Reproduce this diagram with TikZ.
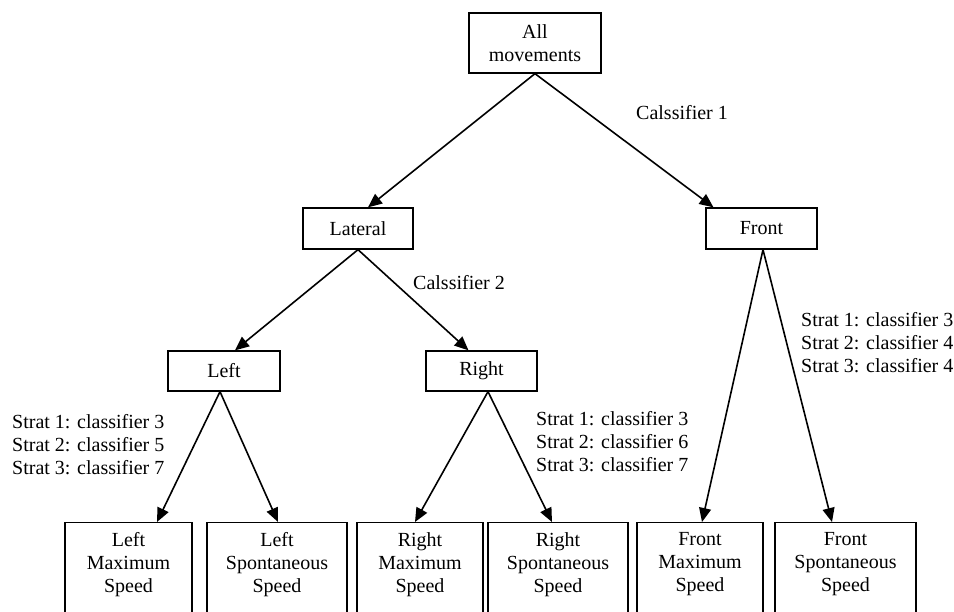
\documentclass[tikz,border=0pt]{standalone}
\usepackage{fontspec}
\setmainfont{Liberation Serif}
\usetikzlibrary{arrows.meta,calc}
\begin{document}
\begin{tikzpicture}[x=1pt,y=-1pt,
  every node/.style={font=\fontsize{20}{23}\selectfont},
  box/.style={draw,line width=1.3pt,inner sep=0pt,minimum height=41pt},
  leafbox/.style={draw,line width=1.3pt,inner sep=0pt,minimum height=110pt,anchor=north},
  leaftext/.style={align=center,anchor=north,inner sep=0pt},
  lbl/.style={anchor=west,align=left,inner sep=0pt},
  arr/.style={line width=1.6pt,-{Triangle[length=14pt,width=12pt]}}]
\useasboundingbox (0,0) rectangle (954,611);
\clip (0,0) rectangle (954,611);
% top levels
\node[box,minimum width=132pt,minimum height=60pt,align=center] (all) at (535,43) {All\\movements};
\node[box,minimum width=110pt] (lat) at (358,228.5) {Lateral};
\node[box,minimum width=111pt] (front) at (761.5,228.5) {Front};
\node[box,minimum width=112pt,minimum height=40pt] (left) at (224,371) {Left};
\node[box,minimum width=111pt,minimum height=40pt] (right) at (481.5,371) {Right};
% leaves
\node[leafbox,minimum width=127pt] (lm) at (128.5,522) {};
\node[leafbox,minimum width=140pt] (ls) at (277,522) {};
\node[leafbox,minimum width=126pt] (rm) at (420,522) {};
\node[leafbox,minimum width=140pt] (rs) at (558,522) {};
\node[leafbox,minimum width=126pt] (fm) at (700,522) {};
\node[leafbox,minimum width=141pt] (fs) at (845.5,522) {};
\node[leaftext] (lmt) at ([yshift=-10pt]lm.north) {Left\\Maximum\\Speed};
\node[leaftext] (lst) at ([yshift=-10pt]ls.north) {Left\\Spontaneous\\Speed};
\node[leaftext] (rmt) at ([yshift=-10pt]rm.north) {Right\\Maximum\\Speed};
\node[leaftext] (rst) at ([yshift=-10pt]rs.north) {Right\\Spontaneous\\Speed};
\node[leaftext] (fmt) at ([yshift=-10pt]fm.north) {Front\\Maximum\\Speed};
\node[leaftext] (fst) at ([yshift=-10pt]fs.north) {Front\\Spontaneous\\Speed};
% arrows
\draw[arr] (all.south) -- ([xshift=10pt]lat.north);
\draw[arr] (all.south) -- ([xshift=-48pt]front.north);
\draw[arr] (lat.south) -- ([xshift=11pt]left.north);
\draw[arr] (lat.south) -- ([xshift=-13pt]right.north);
\draw[arr] ([xshift=-4pt]left.south) -- ([xshift=28.5pt]lm.north);
\draw[arr] ([xshift=-4pt]left.south) -- ([xshift=1pt]ls.north);
\draw[arr] ([xshift=6.5pt]right.south) -- ([xshift=-5pt]rm.north);
\draw[arr] ([xshift=6.5pt]right.south) -- ([xshift=-6pt]rs.north);
\draw[arr] ([xshift=1.5pt]front.south) -- ([xshift=2pt]fm.north);
\draw[arr] ([xshift=1.5pt]front.south) -- ([xshift=-13.5pt]fs.north);
% labels
\node[lbl] (c1) at (636,113) {Calssifier 1};
\node[lbl] (c2) at (413,283) {Calssifier 2};
\node[lbl] (sl) at (12,445) {Strat 1: classifier 3\\Strat 2: classifier 5\\Strat 3: classifier 7};
\node[lbl] (sr) at (536,442) {Strat 1: classifier 3\\Strat 2: classifier 6\\Strat 3: classifier 7};
\node[lbl] (sf) at (801,343) {Strat 1: classifier 3\\Strat 2: classifier 4\\Strat 3: classifier 4};
\end{tikzpicture}
\end{document}
